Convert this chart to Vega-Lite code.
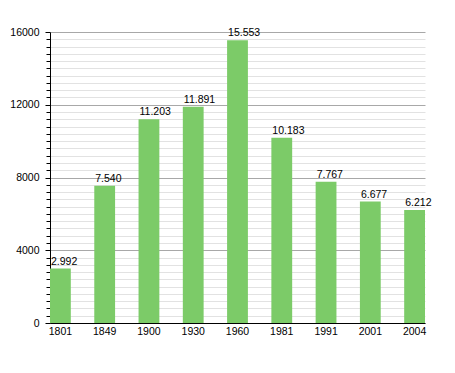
{
  "$schema": "https://vega.github.io/schema/vega-lite/v6.json",
  "width": 375,
  "height": 291,
  "autosize": {"type": "none"},
  "padding": {"left": 50, "top": 32, "right": 30, "bottom": 50},
  "background": "white",
  "config": {
    "view": {"stroke": null},
    "font": "Liberation Sans",
    "locale": {"number": {"decimal": ",", "thousands": ".", "grouping": [3], "currency": ["", ""]}}
  },
  "data": {
    "values": [
      {"year": "1801", "pop": 2992},
      {"year": "1849", "pop": 7540},
      {"year": "1900", "pop": 11203},
      {"year": "1930", "pop": 11891},
      {"year": "1960", "pop": 15553},
      {"year": "1981", "pop": 10183},
      {"year": "1991", "pop": 7767},
      {"year": "2001", "pop": 6677},
      {"year": "2004", "pop": 6212}
    ]
  },
  "encoding": {
    "x": {
      "field": "year", "type": "ordinal", "sort": null,
      "scale": {"paddingInner": 0.53, "paddingOuter": 0},
      "axis": {"title": null, "labelAngle": 0, "ticks": false, "domainColor": "black", "labelFontSize": 10.5, "labelColor": "black", "labelPadding": 3, "grid": false}
    },
    "y": {
      "field": "pop", "type": "quantitative",
      "scale": {"domain": [0, 16000], "nice": false},
      "axis": {
        "title": null,
        "values": [0,400,800,1200,1600,2000,2400,2800,3200,3600,4000,4400,4800,5200,5600,6000,6400,6800,7200,7600,8000,8400,8800,9200,9600,10000,10400,10800,11200,11600,12000,12400,12800,13200,13600,14000,14400,14800,15200,15600,16000],
        "labelExpr": "datum.value % 4000 === 0 ? format(datum.value, 'd') : ''",
        "grid": true,
        "gridColor": {"condition": {"test": "datum.value % 4000 === 0", "value": "#a8a8a8"}, "value": "#e2e2e2"},
        "tickSize": {"condition": {"test": "datum.value % 4000 === 0", "value": 5}, "value": 4},
        "tickColor": "black",
        "domainColor": "black",
        "labelFontSize": 10.5,
        "labelColor": "black",
        "labelPadding": 6
      }
    }
  },
  "layer": [
    {"mark": {"type": "bar", "color": "#7ccb68"}},
    {
      "mark": {"type": "text", "align": "left", "baseline": "alphabetic", "dx": 1, "dy": -4, "fontSize": 10.5, "color": "black"},
      "encoding": {
        "x": {"field": "year", "type": "ordinal", "sort": null, "bandPosition": 0},
        "text": {"field": "pop", "type": "quantitative", "format": ",d"}
      }
    }
  ]
}
